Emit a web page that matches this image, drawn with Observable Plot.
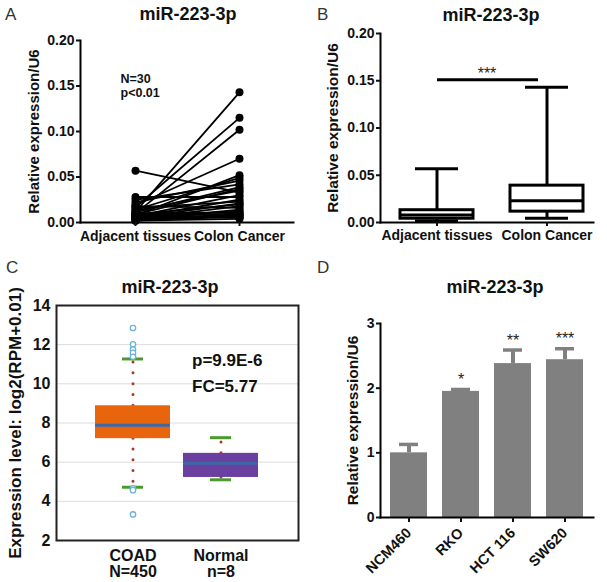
<!DOCTYPE html>
<html>
<head>
<meta charset="utf-8">
<script src="https://cdn.jsdelivr.net/npm/d3@7"></script>
<script src="https://cdn.jsdelivr.net/npm/@observablehq/plot@0.6"></script>
<style>
  body { margin: 0; background: #fff; }
  #fig { position: relative; width: 607px; height: 582px; overflow: hidden; background: #fff;
         font-family: "Liberation Sans", Arial, Helvetica, sans-serif; }
  .letter { position: absolute; font-size: 17px; line-height: 17px; color: #333; }
  .ttl { position: absolute; font-size: 18px; line-height: 18px; font-weight: bold; color: #111;
         transform: translateX(-50%); white-space: nowrap; }
</style>
</head>
<body>
<div id="fig"></div>
<script>
// ---------------- data ----------------
const panelLetters = ["A", "B", "C", "D"];
const panelTitle = "miR-223-3p";
const yLabelRel = "Relative expression/U6";

// Panel A: paired samples (N = 30)
const groupsAB = ["Adjacent tissues", "Colon Cancer"];
const adjacent = [0.012, 0.017, 0.010, 0.019, 0.008, 0.014, 0.022, 0.025, 0.011, 0.009,
                  0.057, 0.013, 0.007, 0.028, 0.006, 0.016, 0.005, 0.009, 0.004, 0.018,
                  0.003, 0.007, 0.010, 0.006, 0.004, 0.002, 0.005, 0.003, 0.008, 0.002];
const colon    = [0.143, 0.115, 0.102, 0.070, 0.052, 0.049, 0.046, 0.042, 0.039, 0.037,
                  0.033, 0.035, 0.030, 0.028, 0.025, 0.023, 0.021, 0.020, 0.018, 0.016,
                  0.014, 0.012, 0.011, 0.010, 0.009, 0.008, 0.007, 0.006, 0.005, 0.004];
const annotA = ["N=30", "p<0.01"];
const annotAOffset = [0, 14];
const yTicksAB = [0, 0.05, 0.10, 0.15, 0.20];

// Panel B: box plot summary
const boxMin = [0.0015, 0.0045];
const boxQ1  = [0.004, 0.0115];
const boxMed = [0.008, 0.023];
const boxQ3  = [0.013, 0.039];
const boxMax = [0.057, 0.143];
const sigB = "***";
const sigBY = 0.151;

// Panel C: TCGA box plot
const groupsC = ["COAD", "Normal"];
const nC = ["N=450", "n=8"];
const cLow  = [4.72, 5.10];
const cQ1   = [7.20, 5.22];
const cMed  = [7.88, 5.95];
const cQ3   = [8.88, 6.45];
const cHigh = [11.27, 7.25];
const cFill = ["#e8650e", "#6a3fa0"];
const outGroup = ["COAD", "COAD", "COAD", "COAD", "COAD", "COAD", "COAD", "COAD"];
const outValue = [12.85, 12.02, 11.75, 11.58, 11.38, 4.66, 4.57, 3.33];
const annotC = ["p=9.9E-6", "FC=5.77"];
const annotCY = [11.2, 9.85];
const yLabelC = "Expression level: log2(RPM+0.01)";

// Panel D: cell lines
const cells = ["NCM460", "RKO", "HCT 116", "SW620"];
const means = [1.00, 1.95, 2.38, 2.44];
const errs  = [0.13, 0.03, 0.21, 0.17];
const stars = ["", "*", "**", "***"];

// ---------------- helpers ----------------
const FONT = "'Liberation Sans', Arial, Helvetica, sans-serif";
const fig = document.getElementById("fig");
function baseStyle(size) {
  return {fontFamily: FONT, fontSize: size + "px", fontWeight: "bold", color: "#111",
          background: "transparent", overflow: "visible"};
}
function place(el, left, top) {
  el.style.position = "absolute";
  el.style.left = left + "px";
  el.style.top = top + "px";
  el.style.maxWidth = "none";
  fig.appendChild(el);
}
const idx2 = [0, 1];
const idx4 = [0, 1, 2, 3];

// ---------------- Panel A ----------------
const pairs = adjacent.flatMap((a, i) => [
  {g: groupsAB[0], v: a, id: i},
  {g: groupsAB[1], v: colon[i], id: i}
]);
const plotA = Plot.plot({
  width: 300, height: 250,
  marginLeft: 80, marginRight: 7, marginTop: 40, marginBottom: 28,
  style: baseStyle(14),
  x: {type: "point", domain: groupsAB, padding: 0.52},
  y: {domain: [0, 0.2]},
  marks: [
    Plot.line(pairs, {x: "g", y: "v", z: "id", stroke: "#000", strokeWidth: 1.8}),
    Plot.dot(pairs, {x: "g", y: "v", r: 4, fill: "#000"}),
    Plot.frame({anchor: "left", stroke: "#000", strokeWidth: 2}),
    Plot.frame({anchor: "bottom", stroke: "#000", strokeWidth: 2}),
    Plot.axisY({ticks: yTicksAB, tickFormat: d3.format(".2f"), tickSize: 4, tickPadding: 2,
                strokeWidth: 2, label: null, fontSize: 14, fontWeight: "bold"}),
    Plot.axisX({tickSize: 4, tickPadding: 5, strokeWidth: 2, label: null, fontSize: 14, fontWeight: "bold"}),
    Plot.text([yLabelRel], {text: d => d, frameAnchor: "left", rotate: -90, dx: -46,
                            textAnchor: "middle", lineAnchor: "middle",
                            fontSize: 15, fontWeight: "bold"}),
    Plot.text([annotA[0]], {text: d => d, frameAnchor: "top-left", dx: 40, dy: 34 + annotAOffset[0],
                            textAnchor: "start", lineAnchor: "top", fontSize: 12.5, fontWeight: "bold"}),
    Plot.text([annotA[1]], {text: d => d, frameAnchor: "top-left", dx: 40, dy: 34 + annotAOffset[1],
                            textAnchor: "start", lineAnchor: "top", fontSize: 12.5, fontWeight: "bold"})
  ]
});
place(plotA, 0, 0);

// ---------------- Panel B ----------------
const gx = i => groupsAB[i];
const plotB = Plot.plot({
  width: 307, height: 250,
  marginLeft: 80, marginRight: 14, marginTop: 33, marginBottom: 28,
  style: baseStyle(14),
  x: {type: "band", domain: groupsAB, paddingInner: 0.333, paddingOuter: 0.126, align: 0.68},
  y: {domain: [0, 0.2]},
  marks: [
    Plot.ruleX(idx2, {x: gx, y1: i => boxMin[i], y2: i => boxMax[i], stroke: "#000", strokeWidth: 3}),
    Plot.barY(idx2, {x: gx, y1: i => boxQ1[i], y2: i => boxQ3[i], fill: "#fff", stroke: "#000", strokeWidth: 3}),
    Plot.tickY(idx2, {x: gx, y: i => boxMed[i], stroke: "#000", strokeWidth: 3}),
    Plot.tickY(idx2, {x: gx, y: i => boxMin[i], stroke: "#000", strokeWidth: 3, insetLeft: 15, insetRight: 15}),
    Plot.tickY(idx2, {x: gx, y: i => boxMax[i], stroke: "#000", strokeWidth: 3, insetLeft: 15, insetRight: 15}),
    Plot.ruleY([sigBY], {y: d => d, x1: () => groupsAB[0], x2: () => groupsAB[1],
                         stroke: "#000", strokeWidth: 3, insetLeft: 37, insetRight: 45}),
    Plot.text([sigB], {text: d => d, y: () => sigBY, frameAnchor: "middle", lineAnchor: "bottom",
                       dy: -1, fontSize: 16, fontWeight: "normal", fill: "#222"}),
    Plot.frame({anchor: "left", stroke: "#000", strokeWidth: 2}),
    Plot.frame({anchor: "bottom", stroke: "#000", strokeWidth: 2}),
    Plot.axisY({ticks: yTicksAB, tickFormat: d3.format(".2f"), tickSize: 4, tickPadding: 2,
                strokeWidth: 2, label: null, fontSize: 14, fontWeight: "bold"}),
    Plot.axisX({tickSize: 4, tickPadding: 4, strokeWidth: 2, label: null, fontSize: 14, fontWeight: "bold"}),
    Plot.text([yLabelRel], {text: d => d, frameAnchor: "left", rotate: -90, dx: -47,
                            textAnchor: "middle", lineAnchor: "middle",
                            fontSize: 15.5, fontWeight: "bold"})
  ]
});
place(plotB, 300, 0);

// ---------------- Panel C ----------------
const cx = i => groupsC[i];
const plotC = Plot.plot({
  width: 300, height: 299,
  marginLeft: 56, marginRight: 2, marginTop: 22, marginBottom: 42,
  style: baseStyle(16),
  x: {type: "band", domain: groupsC, paddingInner: 0.146, paddingOuter: 0.435},
  y: {domain: [2, 14]},
  marks: [
    Plot.gridY([4, 6, 8, 10, 12], {stroke: "#dcdcdc", strokeOpacity: 1, strokeWidth: 1}),
    Plot.ruleX(idx2, {x: cx, y1: i => cQ3[i], y2: i => cHigh[i], stroke: "#a83a2a",
                      strokeWidth: 3, strokeDasharray: "0 10.8", strokeLinecap: "round"}),
    Plot.ruleX(idx2, {x: cx, y1: i => cQ1[i], y2: i => cLow[i], stroke: "#a83a2a",
                      strokeWidth: 3, strokeDasharray: "0 10.8", strokeLinecap: "round"}),
    Plot.barY(idx2, {x: cx, y1: i => cQ1[i], y2: i => cQ3[i], fill: i => cFill[i]}),
    Plot.tickY(idx2, {x: cx, y: i => cMed[i], stroke: "#3d68a6", strokeWidth: 3}),
    Plot.tickY(idx2, {x: cx, y: i => cHigh[i], stroke: "#4c9a2a", strokeWidth: 3, insetLeft: 27, insetRight: 27}),
    Plot.tickY(idx2, {x: cx, y: i => cLow[i], stroke: "#4c9a2a", strokeWidth: 3, insetLeft: 27, insetRight: 27}),
    Plot.dot(outValue.map((v, i) => i), {x: i => outGroup[i], y: i => outValue[i], r: 2.7,
                                          stroke: "#6ab4d8", strokeWidth: 1.3, fill: "#fff"}),
    Plot.text(annotC.map((t, i) => i), {text: i => annotC[i], x: () => groupsC[1], y: i => annotCY[i],
                                         textAnchor: "start", dx: -29, lineAnchor: "middle",
                                         fontSize: 17, fontWeight: "bold", fill: "#111"}),
    Plot.frame({stroke: "#222", strokeWidth: 2}),
    Plot.axisY({ticks: [2, 4, 6, 8, 10, 12, 14], tickSize: 0, tickPadding: 6, label: null,
                fontSize: 16, fontWeight: "bold"}),
    Plot.axisX({tickSize: 0, tickPadding: 9, label: null, fontSize: 16, fontWeight: "bold",
                tickFormat: d => d + "\n" + nC[groupsC.indexOf(d)]}),
    Plot.text([yLabelC], {text: d => d, frameAnchor: "left", rotate: -90, dx: -41,
                          textAnchor: "middle", lineAnchor: "middle",
                          fontSize: 17, fontWeight: "bold"})
  ]
});
place(plotC, 0, 283);

// ---------------- Panel D ----------------
const dx = i => cells[i];
const plotD = Plot.plot({
  width: 307, height: 299,
  marginLeft: 80, marginRight: 14, marginTop: 40, marginBottom: 65,
  style: baseStyle(14),
  x: {type: "band", domain: cells, paddingInner: 0.29, paddingOuter: 0.155},
  y: {domain: [0, 3]},
  marks: [
    Plot.barY(idx4, {x: dx, y: i => means[i], fill: "#808080"}),
    Plot.ruleX(idx4, {x: dx, y1: i => means[i], y2: i => means[i] + errs[i], stroke: "#808080", strokeWidth: 4}),
    Plot.tickY(idx4, {x: dx, y: i => means[i] + errs[i], stroke: "#808080", strokeWidth: 3.5,
                      insetLeft: 9, insetRight: 9}),
    Plot.text(idx4, {x: dx, y: i => means[i] + errs[i], text: i => stars[i], lineAnchor: "bottom",
                     dy: -4.5, fontSize: 16, fontWeight: "normal", fill: "#222"}),
    Plot.frame({anchor: "left", stroke: "#000", strokeWidth: 2}),
    Plot.frame({anchor: "bottom", stroke: "#000", strokeWidth: 2}),
    Plot.axisY({ticks: [0, 1, 2, 3], tickFormat: d3.format("d"), tickSize: 4, tickPadding: 2,
                strokeWidth: 2, label: null, fontSize: 14, fontWeight: "bold"}),
    Plot.axisX({tickSize: 5, tickPadding: 8, tickRotate: -45, strokeWidth: 2, label: null,
                fontSize: 14.5, fontWeight: "bold"}),
    Plot.text([yLabelRel], {text: d => d, frameAnchor: "left", rotate: -90, dx: -27,
                            textAnchor: "middle", lineAnchor: "middle",
                            fontSize: 15.5, fontWeight: "bold"})
  ]
});
place(plotD, 300, 283);

// ---------------- panel letters & titles ----------------
const letterPos = [[5, 6], [317, 6], [6, 259], [317, 259]];
panelLetters.forEach((L, i) => {
  const d = document.createElement("div");
  d.className = "letter";
  d.textContent = L;
  place(d, letterPos[i][0], letterPos[i][1]);
});
const titlePos = [[188, 5], [491, 6], [170, 278], [495, 278]];
titlePos.forEach(([x, y]) => {
  const d = document.createElement("div");
  d.className = "ttl";
  d.textContent = panelTitle;
  place(d, x, y);
});
</script>
</body>
</html>
